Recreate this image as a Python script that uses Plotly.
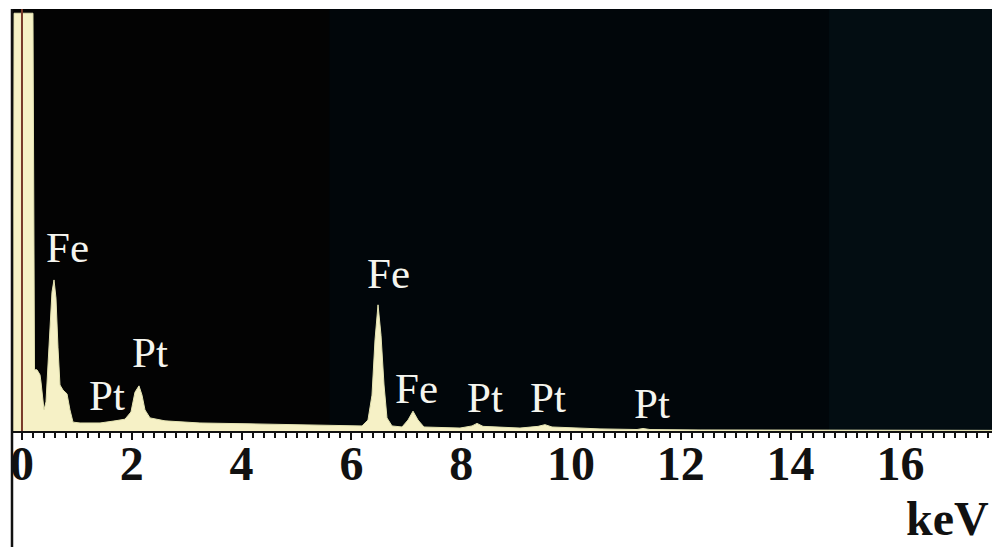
import plotly.graph_objects as go

# EDS spectrum of the Fe-Pt sample: energy (keV) vs. counts (arbitrary units)
energy_kev = [
    -0.164, -0.146, 0.200, 0.228, 0.273, 0.328, 0.346, 0.401, 0.437, 0.492,
    0.546, 0.583, 0.619, 0.656, 0.692, 0.747, 0.820, 0.874, 0.929,
    1.057, 1.421, 1.694, 1.876, 1.985, 2.058, 2.131, 2.186, 2.240, 2.332,
    2.605, 3.242, 4.153, 5.064, 5.792, 6.193, 6.302, 6.375, 6.430, 6.485,
    6.539, 6.594, 6.648, 6.740, 6.922, 7.031, 7.122, 7.213, 7.322, 7.978,
    8.197, 8.288, 8.397, 9.071, 9.399, 9.526, 9.654, 10.528, 11.202, 11.311,
    11.439, 12.350, 17.668,
]
counts = [
    0.0, 99.0, 99.0, 14.5, 14.5, 13.3, 11.6, 5.0, 6.9, 20.4,
    32.9, 35.8, 31.5, 19.7, 10.9, 9.7, 8.8, 5.0, 2.1,
    1.9, 1.9, 2.4, 2.8, 4.5, 9.2, 10.7, 8.5, 5.0, 3.1,
    2.4, 1.9, 1.7, 1.4, 1.2, 1.2, 2.6, 8.5, 21.6, 29.9,
    22.7, 10.9, 3.1, 1.2, 0.95, 2.6, 4.7, 2.6, 0.95, 0.7,
    1.2, 1.8, 1.1, 0.7, 1.1, 1.5, 0.95, 0.5, 0.35, 0.6,
    0.35, 0.25, 0.15,
]

# Peak identifications
peak_labels = ["Fe", "Pt", "Pt", "Fe", "Fe", "Pt", "Pt", "Pt"]
label_x = [0.82, 1.55, 2.33, 6.67, 7.19, 8.43, 9.58, 11.48]
label_y = [43.6, 8.5, 18.5, 37.4, 10.0, 8.0, 8.0, 6.4]

tick_values = [0, 2, 4, 6, 8, 10, 12, 14, 16]
tick_text = [str(v) for v in tick_values]

x_range = [-0.182, 17.668]
y_range = [0, 100]

fig = go.Figure()

fig.add_trace(go.Scatter(
    x=energy_kev, y=counts,
    mode="lines",
    fill="tozeroy",
    fillcolor="#f6f1c6",
    line=dict(color="#e4e3b2", width=1),
    hoverinfo="skip",
    showlegend=False,
))

serif = "Liberation Serif, Times New Roman, serif"

for txt, lx, ly in zip(peak_labels, label_x, label_y):
    fig.add_annotation(
        x=lx, y=ly, text=txt, showarrow=False,
        font=dict(family=serif, size=43, color="#f5f5ef"),
        xanchor="center", yanchor="middle",
    )

# axis unit label, lower right
fig.add_annotation(
    xref="paper", yref="paper", x=0.999, y=-0.208,
    text="<b>keV</b>", showarrow=False,
    font=dict(family=serif, size=48, color="#111111"),
    xanchor="right", yanchor="middle",
)

shapes = [
    # faintly tinted background bands
    dict(type="rect", xref="x", yref="paper", x0=5.6, x1=14.7, y0=0, y1=1,
         fillcolor="#01060a", line=dict(width=0), layer="below"),
    dict(type="rect", xref="x", yref="paper", x0=14.7, x1=x_range[1], y0=0, y1=1,
         fillcolor="#030d12", line=dict(width=0), layer="below"),
    # zero-energy marker
    dict(type="line", xref="x", yref="paper", x0=0, x1=0, y0=0, y1=1,
         line=dict(color="#7a3b2a", width=2), layer="above"),
    # left frame line extending through the label area
    dict(type="line", xref="paper", yref="paper", x0=0, x1=0, y0=-0.28, y1=1,
         line=dict(color="#111111", width=2.5), layer="above"),
]

fig.update_layout(
    width=992, height=547,
    margin=dict(l=12, r=0, t=9, b=116),
    paper_bgcolor="white",
    plot_bgcolor="#030303",
    shapes=shapes,
    showlegend=False,
    xaxis=dict(
        range=x_range,
        tickmode="array",
        tickvals=tick_values,
        ticktext=tick_text,
        ticks="outside", ticklen=7, tickwidth=2, tickcolor="#111111",
        minor=dict(dtick=0.2, ticks="outside", ticklen=5, tickwidth=1.5,
                   tickcolor="#111111", showgrid=False),
        showline=True, linecolor="#111111", linewidth=2,
        showgrid=False, zeroline=False,
        tickfont=dict(family=serif, size=48, color="#111111", weight="bold"),
        ticklabelstandoff=-18,
    ),
    yaxis=dict(
        range=y_range,
        showticklabels=False, showgrid=False, zeroline=False, showline=False,
        ticks="",
    ),
)

fig.write_html("out.html")
